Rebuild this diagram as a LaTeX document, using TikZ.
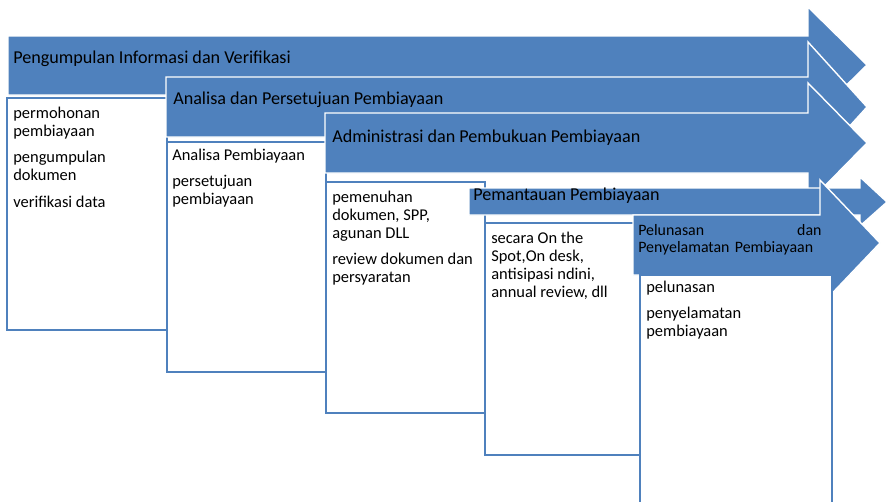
\documentclass[tikz,border=0pt]{standalone}
\usepackage{fontspec}
\setmainfont{Carlito}
\definecolor{stageblue}{HTML}{4F81BD}

\begin{document}
\begin{tikzpicture}[x=0.025cm, y=-0.025cm,
    stage/.style={fill=stageblue, draw=white, line width=1pt, line join=miter},
    listbox/.style={fill=white, draw=stageblue, line width=2pt},
    title/.style={anchor=base west, inner sep=0pt, font=\fontsize{12.9}{14}\selectfont},
    items/.style={anchor=north west, inner sep=0pt, align=left, font=\fontsize{11.7}{12.8}\selectfont}]
        \clip (0,0) rectangle (888,501);

        % first stage
        \draw[stage] (8,36) -- (808,36) -- (808,7) -- (867,65) -- (808,123) -- (808,95) -- (8,95) -- cycle;
        \node[title] (informasi) at (13,63) {Pengumpulan Informasi dan Verifikasi};
        \draw[listbox] (7,98) rectangle (167,330);
        \node[items] (informasilist) at (13,106.5) {permohonan\\pembiayaan\\[6pt]pengumpulan\\dokumen\\[6pt]verifikasi data};

        % second stage
        \draw[stage] (166,77) -- (808,77) -- (808,42) -- (867,107) -- (808,172) -- (808,137) -- (166,137) -- cycle;
        \node[title] (analisa) at (173,104) {Analisa dan Persetujuan Pembiayaan};
        \draw[listbox] (167,142) rectangle (326,372);
        \node[items] (analisalist) at (172,148.5) {Analisa Pembiayaan\\[6pt]persetujuan\\pembiayaan};

        % third stage
        \draw[stage] (325,113) -- (808,113) -- (808,83) -- (867,143) -- (808,203) -- (808,173) -- (325,173) -- cycle;
        \node[title] (administrasi) at (332,142) {Administrasi dan Pembukuan Pembiayaan};
        \draw[listbox] (326,182) rectangle (485,413);
        \node[items] (administrasilist) at (332,190.5) {pemenuhan\\dokumen, SPP,\\agunan DLL\\[6pt]review dokumen dan\\persyaratan};

        % fourth stage
        \draw[stage] (469,188) -- (860,188) -- (860,177) -- (887,202) -- (860,226) -- (860,215) -- (469,215) -- cycle;
        \node[title] (pemantauan) at (473,200) {Pemantauan Pembiayaan};
        \draw[listbox] (485,223) rectangle (640,455);
        \node[items] (pemantauanlist) at (491,231.5) {secara On the\\Spot,On desk,\\antisipasi ndini,\\annual review, dll};

        % fifth stage
        \draw[stage] (633,215) -- (820,215) -- (820,180) -- (880,243) -- (820,306) -- (820,275) -- (633,275) -- cycle;
        \node[anchor=north west, inner sep=0pt, align=left, text width=4.58cm, font=\fontsize{11.3}{12.1}\selectfont] (pelunasan) at (638,224) {Pelunasan\hfill dan\\Penyelamatan Pembiayaan};
        \draw[listbox] (640,275) rectangle (832,520);
        \node[items] (pelunasanlist) at (646,280.5) {pelunasan\\[6pt]penyelamatan\\pembiayaan};
    \end{tikzpicture}
\end{document}
